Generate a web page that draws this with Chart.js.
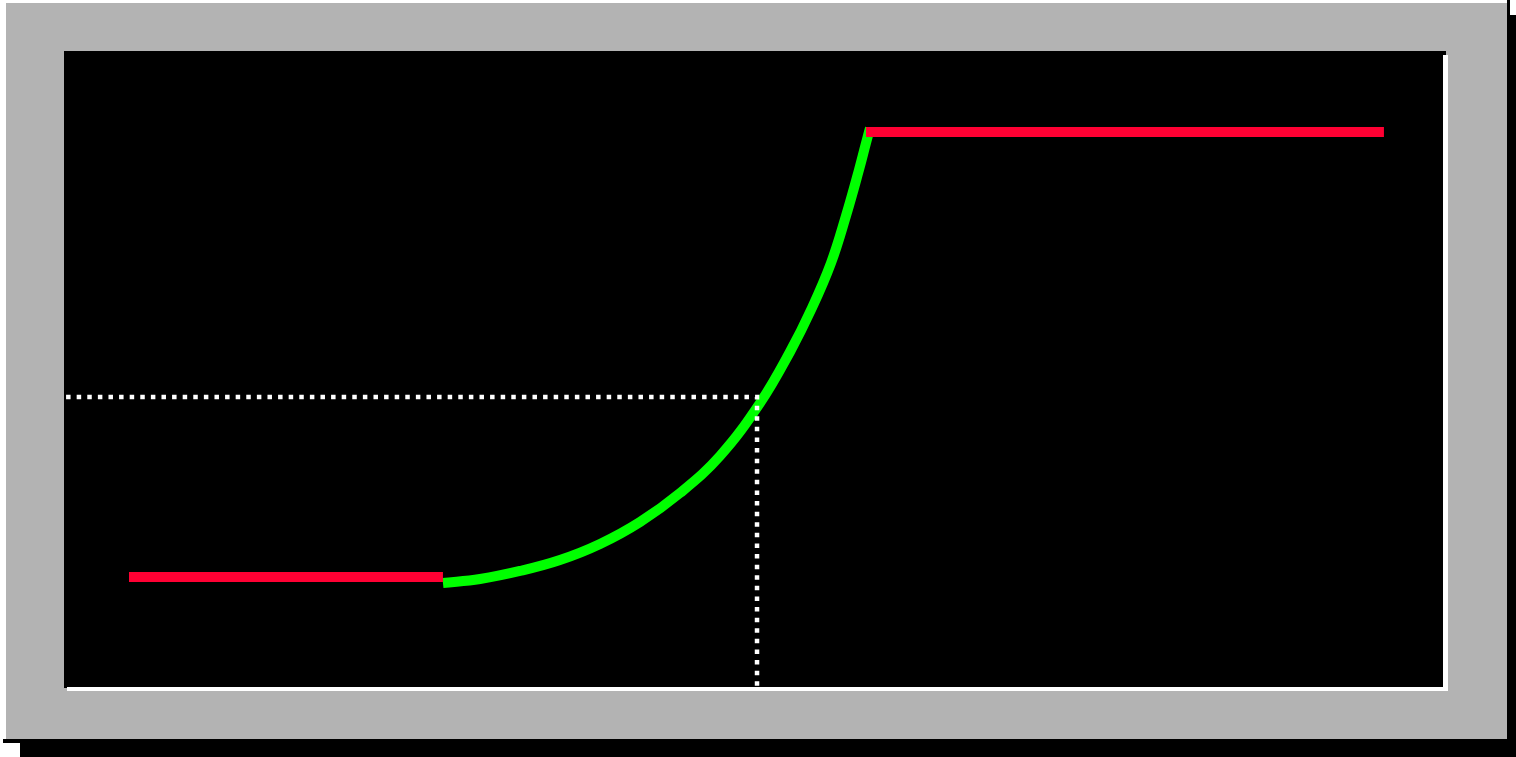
<!DOCTYPE html>
<html>
<head>
<meta charset="utf-8">
<style>
html,body{margin:0;padding:0;background:#ffffff;}
#wrap{position:relative;width:1516px;height:757px;}
</style>
<script src="https://cdn.jsdelivr.net/npm/chart.js@4.4.1/dist/chart.umd.min.js"></script>
</head>
<body>
<div id="wrap"><canvas id="c"></canvas></div>
<script>
// Data (arbitrary units, x 0..100, y 0..100)
const lowerX = [4.70, 27.40];
const lowerY = [17.43, 17.43];
const curveX = [27.40, 30.08, 32.97, 35.86, 38.76, 41.65, 44.54, 47.43, 50.33, 52.49, 54.08, 55.46, 56.54, 57.48, 57.99, 58.28];
const curveY = [16.48, 17.11, 18.37, 20.09, 22.61, 26.06, 30.61, 36.42, 44.74, 52.75, 59.65, 66.72, 74.10, 81.32, 85.56, 87.91];
const upperX = [57.99, 95.44];
const upperY = [87.28, 87.28];
const refX = [0.15, 50.11, 50.11];
const refY = [45.68, 45.68, -0.2];

const toPts = (xs, ys) => xs.map((x, i) => ({x: x, y: ys[i]}));

const framePlugin = {
  id: 'frame',
  beforeDraw(chart) {
    const ctx = chart.ctx;
    ctx.save();
    ctx.fillStyle = '#000000';
    ctx.fillRect(20, 15, 1496, 742);
    ctx.fillRect(1507, 0, 3, 15);
    ctx.fillRect(3, 739, 17, 4);
    ctx.fillStyle = '#b3b3b3';
    ctx.fillRect(6, 3, 1501, 736);
    ctx.fillStyle = '#000000';
    ctx.fillRect(64, 51, 1382, 637);
    ctx.fillStyle = '#ffffff';
    ctx.fillRect(1443, 55, 5, 636);
    ctx.fillRect(67, 687, 1379, 4);
    ctx.restore();
  }
};

new Chart(document.getElementById('c'), {
  type: 'line',
  data: {
    datasets: [
      {
        data: toPts(refX, refY),
        borderColor: '#ffffff',
        borderWidth: 4.5,
        borderDash: [4.5, 6.1],
        borderCapStyle: 'butt',
        pointRadius: 0,
        tension: 0,
        clip: 10,
        order: 0
      },
      {
        data: toPts(lowerX, lowerY),
        borderColor: '#ff0033',
        borderWidth: 10,
        borderCapStyle: 'butt',
        pointRadius: 0,
        order: 1
      },
      {
        data: toPts(curveX, curveY),
        borderColor: '#00ff00',
        borderWidth: 10,
        borderCapStyle: 'butt',
        borderJoinStyle: 'round',
        pointRadius: 0,
        tension: 0.4,
        order: 2
      },
      {
        data: toPts(upperX, upperY),
        borderColor: '#ff0033',
        borderWidth: 10,
        borderCapStyle: 'butt',
        pointRadius: 0,
        order: 1
      }
    ]
  },
  options: {
    responsive: true,
    maintainAspectRatio: false,
    animation: false,
    devicePixelRatio: 1,
    layout: {padding: {left: 64, right: 69, top: 51, bottom: 69}},
    plugins: {legend: {display: false}, tooltip: {enabled: false}, title: {display: false}},
    events: [],
    scales: {
      x: {type: 'linear', min: 0, max: 100, display: false},
      y: {type: 'linear', min: 0, max: 100, display: false}
    }
  },
  plugins: [framePlugin]
});
</script>
</body>
</html>
